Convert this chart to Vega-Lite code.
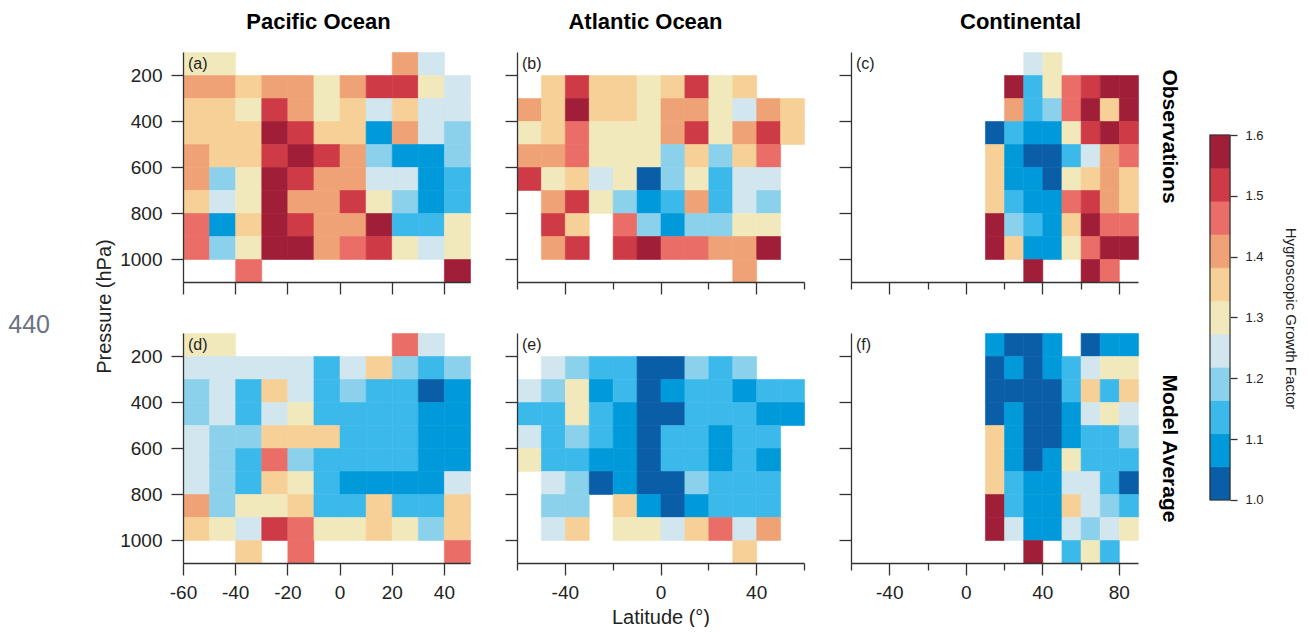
{
  "$schema": "https://vega.github.io/schema/vega-lite/v6.json",
  "padding": {"left": 8, "top": 11, "right": 6, "bottom": 0},
  "config": {
    "font": "Liberation Sans",
    "locale": {"number": {"decimal": ".", "thousands": ",", "grouping": [3], "currency": ["$", ""], "minus": "-"}},
    "view": {"stroke": null},
    "rect": {"strokeWidth": 0.6},
    "axis": {"grid": false, "domainColor": "#333", "tickColor": "#333", "domainWidth": 1.3, "tickWidth": 1.3, "labelColor": "#222", "labelFontSize": 19, "labelFlush": false, "labelOverlap": false, "titleFontWeight": "normal", "titleColor": "#222", "titleFontSize": 20},
    "title": {"fontSize": 22, "fontWeight": "bold", "color": "#000"}
  },
  "datasets": {
    "pa": [
      {"lat":-60,"p":100,"v":1.3},{"lat":-50,"p":100,"v":1.3},{"lat":20,"p":100,"v":1.41},{"lat":30,"p":100,"v":1.25},
      {"lat":-60,"p":200,"v":1.41},{"lat":-50,"p":200,"v":1.41},{"lat":-40,"p":200,"v":1.35},{"lat":-30,"p":200,"v":1.41},{"lat":-20,"p":200,"v":1.41},{"lat":-10,"p":200,"v":1.3},{"lat":0,"p":200,"v":1.41},{"lat":10,"p":200,"v":1.52},{"lat":20,"p":200,"v":1.52},{"lat":30,"p":200,"v":1.3},{"lat":40,"p":200,"v":1.25},
      {"lat":-60,"p":300,"v":1.35},{"lat":-50,"p":300,"v":1.35},{"lat":-40,"p":300,"v":1.3},{"lat":-30,"p":300,"v":1.52},{"lat":-20,"p":300,"v":1.41},{"lat":-10,"p":300,"v":1.3},{"lat":0,"p":300,"v":1.35},{"lat":10,"p":300,"v":1.25},{"lat":20,"p":300,"v":1.35},{"lat":30,"p":300,"v":1.25},{"lat":40,"p":300,"v":1.25},
      {"lat":-60,"p":400,"v":1.35},{"lat":-50,"p":400,"v":1.35},{"lat":-40,"p":400,"v":1.35},{"lat":-30,"p":400,"v":1.57},{"lat":-20,"p":400,"v":1.52},{"lat":-10,"p":400,"v":1.35},{"lat":0,"p":400,"v":1.35},{"lat":10,"p":400,"v":1.08},{"lat":20,"p":400,"v":1.41},{"lat":30,"p":400,"v":1.25},{"lat":40,"p":400,"v":1.19},
      {"lat":-60,"p":500,"v":1.41},{"lat":-50,"p":500,"v":1.35},{"lat":-40,"p":500,"v":1.35},{"lat":-30,"p":500,"v":1.52},{"lat":-20,"p":500,"v":1.57},{"lat":-10,"p":500,"v":1.52},{"lat":0,"p":500,"v":1.41},{"lat":10,"p":500,"v":1.19},{"lat":20,"p":500,"v":1.08},{"lat":30,"p":500,"v":1.08},{"lat":40,"p":500,"v":1.19},
      {"lat":-60,"p":600,"v":1.41},{"lat":-50,"p":600,"v":1.19},{"lat":-40,"p":600,"v":1.3},{"lat":-30,"p":600,"v":1.57},{"lat":-20,"p":600,"v":1.52},{"lat":-10,"p":600,"v":1.41},{"lat":0,"p":600,"v":1.41},{"lat":10,"p":600,"v":1.25},{"lat":20,"p":600,"v":1.25},{"lat":30,"p":600,"v":1.08},{"lat":40,"p":600,"v":1.14},
      {"lat":-60,"p":700,"v":1.35},{"lat":-50,"p":700,"v":1.25},{"lat":-40,"p":700,"v":1.3},{"lat":-30,"p":700,"v":1.57},{"lat":-20,"p":700,"v":1.41},{"lat":-10,"p":700,"v":1.41},{"lat":0,"p":700,"v":1.52},{"lat":10,"p":700,"v":1.3},{"lat":20,"p":700,"v":1.19},{"lat":30,"p":700,"v":1.08},{"lat":40,"p":700,"v":1.14},
      {"lat":-60,"p":800,"v":1.46},{"lat":-50,"p":800,"v":1.08},{"lat":-40,"p":800,"v":1.35},{"lat":-30,"p":800,"v":1.57},{"lat":-20,"p":800,"v":1.52},{"lat":-10,"p":800,"v":1.41},{"lat":0,"p":800,"v":1.41},{"lat":10,"p":800,"v":1.57},{"lat":20,"p":800,"v":1.14},{"lat":30,"p":800,"v":1.14},{"lat":40,"p":800,"v":1.3},
      {"lat":-60,"p":900,"v":1.46},{"lat":-50,"p":900,"v":1.19},{"lat":-40,"p":900,"v":1.3},{"lat":-30,"p":900,"v":1.57},{"lat":-20,"p":900,"v":1.57},{"lat":-10,"p":900,"v":1.41},{"lat":0,"p":900,"v":1.46},{"lat":10,"p":900,"v":1.52},{"lat":20,"p":900,"v":1.3},{"lat":30,"p":900,"v":1.25},{"lat":40,"p":900,"v":1.3},
      {"lat":-40,"p":1000,"v":1.46},{"lat":40,"p":1000,"v":1.57}
    ],
    "pb": [
      {"lat":-50,"p":200,"v":1.35},{"lat":-40,"p":200,"v":1.52},{"lat":-30,"p":200,"v":1.35},{"lat":-20,"p":200,"v":1.35},{"lat":-10,"p":200,"v":1.3},{"lat":0,"p":200,"v":1.35},{"lat":10,"p":200,"v":1.52},{"lat":20,"p":200,"v":1.3},{"lat":30,"p":200,"v":1.35},
      {"lat":-60,"p":300,"v":1.41},{"lat":-50,"p":300,"v":1.35},{"lat":-40,"p":300,"v":1.57},{"lat":-30,"p":300,"v":1.35},{"lat":-20,"p":300,"v":1.35},{"lat":-10,"p":300,"v":1.3},{"lat":0,"p":300,"v":1.41},{"lat":10,"p":300,"v":1.41},{"lat":20,"p":300,"v":1.3},{"lat":30,"p":300,"v":1.25},{"lat":40,"p":300,"v":1.41},{"lat":50,"p":300,"v":1.35},
      {"lat":-60,"p":400,"v":1.3},{"lat":-50,"p":400,"v":1.35},{"lat":-40,"p":400,"v":1.46},{"lat":-30,"p":400,"v":1.3},{"lat":-20,"p":400,"v":1.3},{"lat":-10,"p":400,"v":1.3},{"lat":0,"p":400,"v":1.41},{"lat":10,"p":400,"v":1.52},{"lat":20,"p":400,"v":1.3},{"lat":30,"p":400,"v":1.41},{"lat":40,"p":400,"v":1.52},{"lat":50,"p":400,"v":1.35},
      {"lat":-60,"p":500,"v":1.41},{"lat":-50,"p":500,"v":1.41},{"lat":-40,"p":500,"v":1.46},{"lat":-30,"p":500,"v":1.3},{"lat":-20,"p":500,"v":1.3},{"lat":-10,"p":500,"v":1.3},{"lat":0,"p":500,"v":1.19},{"lat":10,"p":500,"v":1.35},{"lat":20,"p":500,"v":1.19},{"lat":30,"p":500,"v":1.35},{"lat":40,"p":500,"v":1.46},
      {"lat":-60,"p":600,"v":1.52},{"lat":-50,"p":600,"v":1.3},{"lat":-40,"p":600,"v":1.35},{"lat":-30,"p":600,"v":1.25},{"lat":-20,"p":600,"v":1.3},{"lat":-10,"p":600,"v":1.03},{"lat":0,"p":600,"v":1.19},{"lat":10,"p":600,"v":1.3},{"lat":20,"p":600,"v":1.14},{"lat":30,"p":600,"v":1.25},{"lat":40,"p":600,"v":1.25},
      {"lat":-50,"p":700,"v":1.41},{"lat":-40,"p":700,"v":1.52},{"lat":-30,"p":700,"v":1.3},{"lat":-20,"p":700,"v":1.19},{"lat":-10,"p":700,"v":1.08},{"lat":0,"p":700,"v":1.14},{"lat":10,"p":700,"v":1.41},{"lat":20,"p":700,"v":1.14},{"lat":30,"p":700,"v":1.25},{"lat":40,"p":700,"v":1.19},
      {"lat":-50,"p":800,"v":1.52},{"lat":-40,"p":800,"v":1.35},{"lat":-20,"p":800,"v":1.46},{"lat":-10,"p":800,"v":1.19},{"lat":0,"p":800,"v":1.08},{"lat":10,"p":800,"v":1.19},{"lat":20,"p":800,"v":1.19},{"lat":30,"p":800,"v":1.3},{"lat":40,"p":800,"v":1.3},
      {"lat":-50,"p":900,"v":1.41},{"lat":-40,"p":900,"v":1.52},{"lat":-20,"p":900,"v":1.52},{"lat":-10,"p":900,"v":1.57},{"lat":0,"p":900,"v":1.46},{"lat":10,"p":900,"v":1.46},{"lat":20,"p":900,"v":1.41},{"lat":30,"p":900,"v":1.41},{"lat":40,"p":900,"v":1.57},
      {"lat":30,"p":1000,"v":1.41}
    ],
    "pc": [
      {"lat":30,"p":100,"v":1.25},{"lat":40,"p":100,"v":1.3},
      {"lat":20,"p":200,"v":1.57},{"lat":30,"p":200,"v":1.14},{"lat":40,"p":200,"v":1.3},{"lat":50,"p":200,"v":1.46},{"lat":60,"p":200,"v":1.52},{"lat":70,"p":200,"v":1.57},{"lat":80,"p":200,"v":1.57},
      {"lat":20,"p":300,"v":1.41},{"lat":30,"p":300,"v":1.14},{"lat":40,"p":300,"v":1.19},{"lat":50,"p":300,"v":1.46},{"lat":60,"p":300,"v":1.57},{"lat":70,"p":300,"v":1.35},{"lat":80,"p":300,"v":1.57},
      {"lat":10,"p":400,"v":1.03},{"lat":20,"p":400,"v":1.14},{"lat":30,"p":400,"v":1.08},{"lat":40,"p":400,"v":1.08},{"lat":50,"p":400,"v":1.3},{"lat":60,"p":400,"v":1.52},{"lat":70,"p":400,"v":1.57},{"lat":80,"p":400,"v":1.52},
      {"lat":10,"p":500,"v":1.35},{"lat":20,"p":500,"v":1.08},{"lat":30,"p":500,"v":1.03},{"lat":40,"p":500,"v":1.03},{"lat":50,"p":500,"v":1.14},{"lat":60,"p":500,"v":1.25},{"lat":70,"p":500,"v":1.41},{"lat":80,"p":500,"v":1.46},
      {"lat":10,"p":600,"v":1.35},{"lat":20,"p":600,"v":1.08},{"lat":30,"p":600,"v":1.08},{"lat":40,"p":600,"v":1.03},{"lat":50,"p":600,"v":1.3},{"lat":60,"p":600,"v":1.35},{"lat":70,"p":600,"v":1.41},{"lat":80,"p":600,"v":1.35},
      {"lat":10,"p":700,"v":1.35},{"lat":20,"p":700,"v":1.14},{"lat":30,"p":700,"v":1.08},{"lat":40,"p":700,"v":1.08},{"lat":50,"p":700,"v":1.46},{"lat":60,"p":700,"v":1.52},{"lat":70,"p":700,"v":1.41},{"lat":80,"p":700,"v":1.35},
      {"lat":10,"p":800,"v":1.57},{"lat":20,"p":800,"v":1.19},{"lat":30,"p":800,"v":1.14},{"lat":40,"p":800,"v":1.08},{"lat":50,"p":800,"v":1.35},{"lat":60,"p":800,"v":1.57},{"lat":70,"p":800,"v":1.46},{"lat":80,"p":800,"v":1.46},
      {"lat":10,"p":900,"v":1.57},{"lat":20,"p":900,"v":1.35},{"lat":30,"p":900,"v":1.08},{"lat":40,"p":900,"v":1.08},{"lat":50,"p":900,"v":1.3},{"lat":60,"p":900,"v":1.46},{"lat":70,"p":900,"v":1.57},{"lat":80,"p":900,"v":1.57},
      {"lat":30,"p":1000,"v":1.57},{"lat":60,"p":1000,"v":1.57},{"lat":70,"p":1000,"v":1.46}
    ],
    "pd": [
      {"lat":-60,"p":100,"v":1.3},{"lat":-50,"p":100,"v":1.3},{"lat":20,"p":100,"v":1.46},{"lat":30,"p":100,"v":1.25},
      {"lat":-60,"p":200,"v":1.25},{"lat":-50,"p":200,"v":1.25},{"lat":-40,"p":200,"v":1.25},{"lat":-30,"p":200,"v":1.25},{"lat":-20,"p":200,"v":1.25},{"lat":-10,"p":200,"v":1.14},{"lat":0,"p":200,"v":1.25},{"lat":10,"p":200,"v":1.35},{"lat":20,"p":200,"v":1.19},{"lat":30,"p":200,"v":1.14},{"lat":40,"p":200,"v":1.19},
      {"lat":-60,"p":300,"v":1.19},{"lat":-50,"p":300,"v":1.25},{"lat":-40,"p":300,"v":1.14},{"lat":-30,"p":300,"v":1.35},{"lat":-20,"p":300,"v":1.25},{"lat":-10,"p":300,"v":1.14},{"lat":0,"p":300,"v":1.19},{"lat":10,"p":300,"v":1.14},{"lat":20,"p":300,"v":1.14},{"lat":30,"p":300,"v":1.03},{"lat":40,"p":300,"v":1.08},
      {"lat":-60,"p":400,"v":1.19},{"lat":-50,"p":400,"v":1.25},{"lat":-40,"p":400,"v":1.14},{"lat":-30,"p":400,"v":1.25},{"lat":-20,"p":400,"v":1.3},{"lat":-10,"p":400,"v":1.14},{"lat":0,"p":400,"v":1.14},{"lat":10,"p":400,"v":1.14},{"lat":20,"p":400,"v":1.14},{"lat":30,"p":400,"v":1.08},{"lat":40,"p":400,"v":1.08},
      {"lat":-60,"p":500,"v":1.25},{"lat":-50,"p":500,"v":1.19},{"lat":-40,"p":500,"v":1.19},{"lat":-30,"p":500,"v":1.35},{"lat":-20,"p":500,"v":1.35},{"lat":-10,"p":500,"v":1.35},{"lat":0,"p":500,"v":1.14},{"lat":10,"p":500,"v":1.14},{"lat":20,"p":500,"v":1.14},{"lat":30,"p":500,"v":1.08},{"lat":40,"p":500,"v":1.08},
      {"lat":-60,"p":600,"v":1.25},{"lat":-50,"p":600,"v":1.19},{"lat":-40,"p":600,"v":1.14},{"lat":-30,"p":600,"v":1.46},{"lat":-20,"p":600,"v":1.19},{"lat":-10,"p":600,"v":1.14},{"lat":0,"p":600,"v":1.14},{"lat":10,"p":600,"v":1.14},{"lat":20,"p":600,"v":1.14},{"lat":30,"p":600,"v":1.08},{"lat":40,"p":600,"v":1.08},
      {"lat":-60,"p":700,"v":1.25},{"lat":-50,"p":700,"v":1.19},{"lat":-40,"p":700,"v":1.14},{"lat":-30,"p":700,"v":1.35},{"lat":-20,"p":700,"v":1.3},{"lat":-10,"p":700,"v":1.14},{"lat":0,"p":700,"v":1.08},{"lat":10,"p":700,"v":1.08},{"lat":20,"p":700,"v":1.08},{"lat":30,"p":700,"v":1.08},{"lat":40,"p":700,"v":1.25},
      {"lat":-60,"p":800,"v":1.41},{"lat":-50,"p":800,"v":1.19},{"lat":-40,"p":800,"v":1.3},{"lat":-30,"p":800,"v":1.3},{"lat":-20,"p":800,"v":1.35},{"lat":-10,"p":800,"v":1.14},{"lat":0,"p":800,"v":1.14},{"lat":10,"p":800,"v":1.35},{"lat":20,"p":800,"v":1.14},{"lat":30,"p":800,"v":1.14},{"lat":40,"p":800,"v":1.35},
      {"lat":-60,"p":900,"v":1.35},{"lat":-50,"p":900,"v":1.3},{"lat":-40,"p":900,"v":1.25},{"lat":-30,"p":900,"v":1.52},{"lat":-20,"p":900,"v":1.46},{"lat":-10,"p":900,"v":1.3},{"lat":0,"p":900,"v":1.3},{"lat":10,"p":900,"v":1.35},{"lat":20,"p":900,"v":1.3},{"lat":30,"p":900,"v":1.19},{"lat":40,"p":900,"v":1.35},
      {"lat":-40,"p":1000,"v":1.35},{"lat":-20,"p":1000,"v":1.46},{"lat":40,"p":1000,"v":1.46}
    ],
    "pe": [
      {"lat":-50,"p":200,"v":1.25},{"lat":-40,"p":200,"v":1.19},{"lat":-30,"p":200,"v":1.14},{"lat":-20,"p":200,"v":1.14},{"lat":-10,"p":200,"v":1.03},{"lat":0,"p":200,"v":1.03},{"lat":10,"p":200,"v":1.19},{"lat":20,"p":200,"v":1.14},{"lat":30,"p":200,"v":1.19},
      {"lat":-60,"p":300,"v":1.25},{"lat":-50,"p":300,"v":1.19},{"lat":-40,"p":300,"v":1.3},{"lat":-30,"p":300,"v":1.08},{"lat":-20,"p":300,"v":1.14},{"lat":-10,"p":300,"v":1.03},{"lat":0,"p":300,"v":1.08},{"lat":10,"p":300,"v":1.14},{"lat":20,"p":300,"v":1.14},{"lat":30,"p":300,"v":1.08},{"lat":40,"p":300,"v":1.14},{"lat":50,"p":300,"v":1.14},
      {"lat":-60,"p":400,"v":1.14},{"lat":-50,"p":400,"v":1.14},{"lat":-40,"p":400,"v":1.3},{"lat":-30,"p":400,"v":1.14},{"lat":-20,"p":400,"v":1.08},{"lat":-10,"p":400,"v":1.03},{"lat":0,"p":400,"v":1.03},{"lat":10,"p":400,"v":1.14},{"lat":20,"p":400,"v":1.14},{"lat":30,"p":400,"v":1.14},{"lat":40,"p":400,"v":1.08},{"lat":50,"p":400,"v":1.08},
      {"lat":-60,"p":500,"v":1.25},{"lat":-50,"p":500,"v":1.14},{"lat":-40,"p":500,"v":1.19},{"lat":-30,"p":500,"v":1.14},{"lat":-20,"p":500,"v":1.08},{"lat":-10,"p":500,"v":1.03},{"lat":0,"p":500,"v":1.14},{"lat":10,"p":500,"v":1.14},{"lat":20,"p":500,"v":1.08},{"lat":30,"p":500,"v":1.14},{"lat":40,"p":500,"v":1.14},
      {"lat":-60,"p":600,"v":1.3},{"lat":-50,"p":600,"v":1.14},{"lat":-40,"p":600,"v":1.14},{"lat":-30,"p":600,"v":1.08},{"lat":-20,"p":600,"v":1.08},{"lat":-10,"p":600,"v":1.03},{"lat":0,"p":600,"v":1.14},{"lat":10,"p":600,"v":1.14},{"lat":20,"p":600,"v":1.08},{"lat":30,"p":600,"v":1.14},{"lat":40,"p":600,"v":1.08},
      {"lat":-50,"p":700,"v":1.25},{"lat":-40,"p":700,"v":1.19},{"lat":-30,"p":700,"v":1.03},{"lat":-20,"p":700,"v":1.08},{"lat":-10,"p":700,"v":1.03},{"lat":0,"p":700,"v":1.03},{"lat":10,"p":700,"v":1.19},{"lat":20,"p":700,"v":1.14},{"lat":30,"p":700,"v":1.14},{"lat":40,"p":700,"v":1.14},
      {"lat":-50,"p":800,"v":1.19},{"lat":-40,"p":800,"v":1.19},{"lat":-20,"p":800,"v":1.35},{"lat":-10,"p":800,"v":1.08},{"lat":0,"p":800,"v":1.03},{"lat":10,"p":800,"v":1.08},{"lat":20,"p":800,"v":1.14},{"lat":30,"p":800,"v":1.14},{"lat":40,"p":800,"v":1.14},
      {"lat":-50,"p":900,"v":1.25},{"lat":-40,"p":900,"v":1.35},{"lat":-20,"p":900,"v":1.3},{"lat":-10,"p":900,"v":1.3},{"lat":0,"p":900,"v":1.25},{"lat":10,"p":900,"v":1.35},{"lat":20,"p":900,"v":1.46},{"lat":30,"p":900,"v":1.25},{"lat":40,"p":900,"v":1.41},
      {"lat":30,"p":1000,"v":1.35}
    ],
    "pf": [
      {"lat":10,"p":100,"v":1.08},{"lat":20,"p":100,"v":1.03},{"lat":30,"p":100,"v":1.03},{"lat":40,"p":100,"v":1.08},{"lat":60,"p":100,"v":1.03},{"lat":70,"p":100,"v":1.08},{"lat":80,"p":100,"v":1.08},
      {"lat":10,"p":200,"v":1.03},{"lat":20,"p":200,"v":1.08},{"lat":30,"p":200,"v":1.03},{"lat":40,"p":200,"v":1.08},{"lat":50,"p":200,"v":1.14},{"lat":60,"p":200,"v":1.25},{"lat":70,"p":200,"v":1.3},{"lat":80,"p":200,"v":1.3},
      {"lat":10,"p":300,"v":1.03},{"lat":20,"p":300,"v":1.03},{"lat":30,"p":300,"v":1.03},{"lat":40,"p":300,"v":1.03},{"lat":50,"p":300,"v":1.14},{"lat":60,"p":300,"v":1.35},{"lat":70,"p":300,"v":1.14},{"lat":80,"p":300,"v":1.35},
      {"lat":10,"p":400,"v":1.03},{"lat":20,"p":400,"v":1.08},{"lat":30,"p":400,"v":1.03},{"lat":40,"p":400,"v":1.03},{"lat":50,"p":400,"v":1.08},{"lat":60,"p":400,"v":1.25},{"lat":70,"p":400,"v":1.3},{"lat":80,"p":400,"v":1.25},
      {"lat":10,"p":500,"v":1.35},{"lat":20,"p":500,"v":1.08},{"lat":30,"p":500,"v":1.03},{"lat":40,"p":500,"v":1.03},{"lat":50,"p":500,"v":1.08},{"lat":60,"p":500,"v":1.14},{"lat":70,"p":500,"v":1.14},{"lat":80,"p":500,"v":1.19},
      {"lat":10,"p":600,"v":1.35},{"lat":20,"p":600,"v":1.08},{"lat":30,"p":600,"v":1.03},{"lat":40,"p":600,"v":1.08},{"lat":50,"p":600,"v":1.3},{"lat":60,"p":600,"v":1.14},{"lat":70,"p":600,"v":1.14},{"lat":80,"p":600,"v":1.14},
      {"lat":10,"p":700,"v":1.35},{"lat":20,"p":700,"v":1.14},{"lat":30,"p":700,"v":1.08},{"lat":40,"p":700,"v":1.08},{"lat":50,"p":700,"v":1.25},{"lat":60,"p":700,"v":1.25},{"lat":70,"p":700,"v":1.14},{"lat":80,"p":700,"v":1.03},
      {"lat":10,"p":800,"v":1.57},{"lat":20,"p":800,"v":1.14},{"lat":30,"p":800,"v":1.08},{"lat":40,"p":800,"v":1.08},{"lat":50,"p":800,"v":1.35},{"lat":60,"p":800,"v":1.25},{"lat":70,"p":800,"v":1.19},{"lat":80,"p":800,"v":1.14},
      {"lat":10,"p":900,"v":1.57},{"lat":20,"p":900,"v":1.25},{"lat":30,"p":900,"v":1.08},{"lat":40,"p":900,"v":1.08},{"lat":50,"p":900,"v":1.25},{"lat":60,"p":900,"v":1.19},{"lat":70,"p":900,"v":1.25},{"lat":80,"p":900,"v":1.3},
      {"lat":30,"p":1000,"v":1.57},{"lat":50,"p":1000,"v":1.14},{"lat":60,"p":1000,"v":1.3},{"lat":70,"p":1000,"v":1.14}
    ],
    "bar": [
      {"lo":1.0,"hi":1.0545,"v":1.0273},{"lo":1.0545,"hi":1.1091,"v":1.0818},{"lo":1.1091,"hi":1.1636,"v":1.1364},{"lo":1.1636,"hi":1.2182,"v":1.1909},
      {"lo":1.2182,"hi":1.2727,"v":1.2455},{"lo":1.2727,"hi":1.3273,"v":1.3},{"lo":1.3273,"hi":1.3818,"v":1.3545},{"lo":1.3818,"hi":1.4364,"v":1.4091},
      {"lo":1.4364,"hi":1.4909,"v":1.4636},{"lo":1.4909,"hi":1.5455,"v":1.5182},{"lo":1.5455,"hi":1.6,"v":1.5727}
    ],
    "barframe": [{"lo": 1.0, "hi": 1.6}]
  },
  "hconcat": [
    {
      "spacing": 33,
      "hconcat": [
        {
          "title": {"text": "440", "orient": "left", "anchor": "middle", "angle": 0, "align": "right", "baseline": "middle", "fontSize": 25, "fontWeight": "normal", "color": "#6B7280", "offset": 3, "dy": 18},
          "vconcat": [
            {
              "title": {"text": "Pressure (hPa)", "orient": "left", "anchor": "middle", "baseline": "bottom", "fontSize": 20, "fontWeight": "normal", "color": "#222", "offset": -15},
              "spacing": 38,
              "vconcat": [
                {
                  "width": 287, "height": 230,
                  "title": {"text": "Pacific Ocean", "frame": "group", "dx": -8, "baseline": "alphabetic", "offset": 1},
                  "layer": [
                    {
                      "data": {"name": "pa"},
                      "mark": {"type": "rect"},
                      "encoding": {
                        "x": {"field": "lat", "type": "quantitative", "bin": {"step": 10, "extent": [-60, 50], "nice": false}, "scale": {"domain": [-60, 50], "nice": false, "zero": false}, "axis": {"orient": "bottom", "values": [-60, -40, -20, 0, 20, 40], "labels": false, "tickSize": 12, "title": null}},
                        "y": {"field": "p", "type": "quantitative", "bin": {"step": 100, "extent": [100, 1100], "nice": false}, "scale": {"domain": [100, 1100], "reverse": true, "nice": false, "zero": false}, "axis": {"orient": "left", "values": [200, 400, 600, 800, 1000], "format": "d", "tickSize": 12, "labelPadding": 9, "title": null}},
                        "color": {"field": "v", "type": "quantitative", "scale": {"type": "quantize", "domain": [1, 1.6], "nice": false, "range": ["#0A5EA8", "#009ADB", "#3CB9EB", "#8CD1EC", "#D1E6EE", "#F1E9BC", "#F6D097", "#F0A277", "#EA6E67", "#CF3A47", "#A01E37"]}, "legend": null},
                        "stroke": {"field": "v", "type": "quantitative", "scale": {"type": "quantize", "domain": [1, 1.6], "nice": false, "range": ["#0A5EA8", "#009ADB", "#3CB9EB", "#8CD1EC", "#D1E6EE", "#F1E9BC", "#F6D097", "#F0A277", "#EA6E67", "#CF3A47", "#A01E37"]}, "legend": null}
                      }
                    },
                    {
                      "data": {"values": [{"label": "(a)"}]},
                      "mark": {"type": "text", "align": "left", "baseline": "top", "dx": 5, "dy": 4, "fontSize": 16, "color": "#222"},
                      "encoding": {"x": {"datum": -60, "axis": null}, "y": {"datum": 100, "axis": null}, "text": {"field": "label"}}
                    }
                  ],
                  "resolve": {"axis": {"x": "independent", "y": "independent"}}
                },
                {
                  "width": 287, "height": 230,
                  "layer": [
                    {
                      "data": {"name": "pd"},
                      "mark": {"type": "rect"},
                      "encoding": {
                        "x": {"field": "lat", "type": "quantitative", "bin": {"step": 10, "extent": [-60, 50], "nice": false}, "scale": {"domain": [-60, 50], "nice": false, "zero": false}, "axis": {"orient": "bottom", "values": [-60, -40, -20, 0, 20, 40], "format": "d", "tickSize": 12, "labelPadding": 8, "title": null}},
                        "y": {"field": "p", "type": "quantitative", "bin": {"step": 100, "extent": [100, 1100], "nice": false}, "scale": {"domain": [100, 1100], "reverse": true, "nice": false, "zero": false}, "axis": {"orient": "left", "values": [200, 400, 600, 800, 1000], "format": "d", "tickSize": 12, "labelPadding": 9, "title": null}},
                        "color": {"field": "v", "type": "quantitative", "scale": {"type": "quantize", "domain": [1, 1.6], "nice": false, "range": ["#0A5EA8", "#009ADB", "#3CB9EB", "#8CD1EC", "#D1E6EE", "#F1E9BC", "#F6D097", "#F0A277", "#EA6E67", "#CF3A47", "#A01E37"]}, "legend": null},
                        "stroke": {"field": "v", "type": "quantitative", "scale": {"type": "quantize", "domain": [1, 1.6], "nice": false, "range": ["#0A5EA8", "#009ADB", "#3CB9EB", "#8CD1EC", "#D1E6EE", "#F1E9BC", "#F6D097", "#F0A277", "#EA6E67", "#CF3A47", "#A01E37"]}, "legend": null}
                      }
                    },
                    {
                      "data": {"values": [{"label": "(d)"}]},
                      "mark": {"type": "text", "align": "left", "baseline": "top", "dx": 5, "dy": 4, "fontSize": 16, "color": "#222"},
                      "encoding": {"x": {"datum": -60, "axis": null}, "y": {"datum": 100, "axis": null}, "text": {"field": "label"}}
                    }
                  ],
                  "resolve": {"axis": {"x": "independent", "y": "independent"}}
                }
              ]
            }
          ]
        },
        {
          "spacing": 38,
          "vconcat": [
            {
              "width": 287, "height": 230,
              "title": {"text": "Atlantic Ocean", "frame": "group", "dx": -15, "baseline": "alphabetic", "offset": 1},
              "layer": [
                {
                  "data": {"name": "pb"},
                  "mark": {"type": "rect"},
                  "encoding": {
                    "x": {"field": "lat", "type": "quantitative", "bin": {"step": 10, "extent": [-60, 60], "nice": false}, "scale": {"domain": [-60, 60], "nice": false, "zero": false}, "axis": {"orient": "bottom", "values": [-40, 0, 40], "labels": false, "tickSize": 12, "title": null}},
                    "y": {"field": "p", "type": "quantitative", "bin": {"step": 100, "extent": [100, 1100], "nice": false}, "scale": {"domain": [100, 1100], "reverse": true, "nice": false, "zero": false}, "axis": {"orient": "left", "values": [200, 400, 600, 800, 1000], "labels": false, "tickSize": 12, "title": null}},
                    "color": {"field": "v", "type": "quantitative", "scale": {"type": "quantize", "domain": [1, 1.6], "nice": false, "range": ["#0A5EA8", "#009ADB", "#3CB9EB", "#8CD1EC", "#D1E6EE", "#F1E9BC", "#F6D097", "#F0A277", "#EA6E67", "#CF3A47", "#A01E37"]}, "legend": null},
                    "stroke": {"field": "v", "type": "quantitative", "scale": {"type": "quantize", "domain": [1, 1.6], "nice": false, "range": ["#0A5EA8", "#009ADB", "#3CB9EB", "#8CD1EC", "#D1E6EE", "#F1E9BC", "#F6D097", "#F0A277", "#EA6E67", "#CF3A47", "#A01E37"]}, "legend": null}
                  }
                },
                {
                  "data": {"values": [{"label": "(b)"}]},
                  "mark": {"type": "text", "align": "left", "baseline": "top", "dx": 5, "dy": 4, "fontSize": 16, "color": "#222"},
                  "encoding": {"x": {"datum": -60, "axis": {"orient": "bottom", "values": [-60, -20, 20, 60], "labels": false, "domain": false, "tickSize": 7, "title": null}}, "y": {"datum": 100, "axis": null}, "text": {"field": "label"}}
                }
              ],
              "resolve": {"axis": {"x": "independent", "y": "independent"}}
            },
            {
              "width": 287, "height": 230,
              "layer": [
                {
                  "data": {"name": "pe"},
                  "mark": {"type": "rect"},
                  "encoding": {
                    "x": {"field": "lat", "type": "quantitative", "bin": {"step": 10, "extent": [-60, 60], "nice": false}, "scale": {"domain": [-60, 60], "nice": false, "zero": false}, "axis": {"orient": "bottom", "values": [-40, 0, 40], "format": "d", "tickSize": 12, "labelPadding": 8, "title": "Latitude (°)", "titlePadding": 5}},
                    "y": {"field": "p", "type": "quantitative", "bin": {"step": 100, "extent": [100, 1100], "nice": false}, "scale": {"domain": [100, 1100], "reverse": true, "nice": false, "zero": false}, "axis": {"orient": "left", "values": [200, 400, 600, 800, 1000], "labels": false, "tickSize": 12, "title": null}},
                    "color": {"field": "v", "type": "quantitative", "scale": {"type": "quantize", "domain": [1, 1.6], "nice": false, "range": ["#0A5EA8", "#009ADB", "#3CB9EB", "#8CD1EC", "#D1E6EE", "#F1E9BC", "#F6D097", "#F0A277", "#EA6E67", "#CF3A47", "#A01E37"]}, "legend": null},
                    "stroke": {"field": "v", "type": "quantitative", "scale": {"type": "quantize", "domain": [1, 1.6], "nice": false, "range": ["#0A5EA8", "#009ADB", "#3CB9EB", "#8CD1EC", "#D1E6EE", "#F1E9BC", "#F6D097", "#F0A277", "#EA6E67", "#CF3A47", "#A01E37"]}, "legend": null}
                  }
                },
                {
                  "data": {"values": [{"label": "(e)"}]},
                  "mark": {"type": "text", "align": "left", "baseline": "top", "dx": 5, "dy": 4, "fontSize": 16, "color": "#222"},
                  "encoding": {"x": {"datum": -60, "axis": {"orient": "bottom", "values": [-60, -20, 20, 60], "labels": false, "domain": false, "tickSize": 7, "title": null}}, "y": {"datum": 100, "axis": null}, "text": {"field": "label"}}
                }
              ],
              "resolve": {"axis": {"x": "independent", "y": "independent"}}
            }
          ]
        },
        {
          "spacing": 38,
          "vconcat": [
            {
              "width": 287, "height": 230,
              "title": {"text": "Continental", "frame": "group", "dx": 26, "baseline": "alphabetic", "offset": 1},
              "layer": [
                {
                  "data": {"name": "pc"},
                  "mark": {"type": "rect"},
                  "encoding": {
                    "x": {"field": "lat", "type": "quantitative", "bin": {"step": 10, "extent": [-60, 90], "nice": false}, "scale": {"domain": [-60, 90], "nice": false, "zero": false}, "axis": {"orient": "bottom", "values": [-40, 0, 40, 80], "labels": false, "tickSize": 12, "title": null}},
                    "y": {"field": "p", "type": "quantitative", "bin": {"step": 100, "extent": [100, 1100], "nice": false}, "scale": {"domain": [100, 1100], "reverse": true, "nice": false, "zero": false}, "axis": {"orient": "left", "values": [200, 400, 600, 800, 1000], "labels": false, "tickSize": 12, "title": null}},
                    "color": {"field": "v", "type": "quantitative", "scale": {"type": "quantize", "domain": [1, 1.6], "nice": false, "range": ["#0A5EA8", "#009ADB", "#3CB9EB", "#8CD1EC", "#D1E6EE", "#F1E9BC", "#F6D097", "#F0A277", "#EA6E67", "#CF3A47", "#A01E37"]}, "legend": null},
                    "stroke": {"field": "v", "type": "quantitative", "scale": {"type": "quantize", "domain": [1, 1.6], "nice": false, "range": ["#0A5EA8", "#009ADB", "#3CB9EB", "#8CD1EC", "#D1E6EE", "#F1E9BC", "#F6D097", "#F0A277", "#EA6E67", "#CF3A47", "#A01E37"]}, "legend": null}
                  }
                },
                {
                  "data": {"values": [{"label": "(c)"}]},
                  "mark": {"type": "text", "align": "left", "baseline": "top", "dx": 5, "dy": 4, "fontSize": 16, "color": "#222"},
                  "encoding": {
                    "x": {"datum": -60, "axis": {"orient": "bottom", "values": [-60, -20, 20, 60], "labels": false, "domain": false, "tickSize": 7, "title": null}},
                    "y": {"datum": 100, "axis": {"orient": "right", "ticks": false, "labels": false, "domain": false, "title": "Observations", "titleFontWeight": "bold", "titleFontSize": 21, "titleColor": "#000", "titleAngle": 90, "titlePadding": 20, "titleY": 84}},
                    "text": {"field": "label"}
                  }
                }
              ],
              "resolve": {"axis": {"x": "independent", "y": "independent"}}
            },
            {
              "width": 287, "height": 230,
              "layer": [
                {
                  "data": {"name": "pf"},
                  "mark": {"type": "rect"},
                  "encoding": {
                    "x": {"field": "lat", "type": "quantitative", "bin": {"step": 10, "extent": [-60, 90], "nice": false}, "scale": {"domain": [-60, 90], "nice": false, "zero": false}, "axis": {"orient": "bottom", "values": [-40, 0, 40, 80], "format": "d", "tickSize": 12, "labelPadding": 8, "title": null}},
                    "y": {"field": "p", "type": "quantitative", "bin": {"step": 100, "extent": [100, 1100], "nice": false}, "scale": {"domain": [100, 1100], "reverse": true, "nice": false, "zero": false}, "axis": {"orient": "left", "values": [200, 400, 600, 800, 1000], "labels": false, "tickSize": 12, "title": null}},
                    "color": {"field": "v", "type": "quantitative", "scale": {"type": "quantize", "domain": [1, 1.6], "nice": false, "range": ["#0A5EA8", "#009ADB", "#3CB9EB", "#8CD1EC", "#D1E6EE", "#F1E9BC", "#F6D097", "#F0A277", "#EA6E67", "#CF3A47", "#A01E37"]}, "legend": null},
                    "stroke": {"field": "v", "type": "quantitative", "scale": {"type": "quantize", "domain": [1, 1.6], "nice": false, "range": ["#0A5EA8", "#009ADB", "#3CB9EB", "#8CD1EC", "#D1E6EE", "#F1E9BC", "#F6D097", "#F0A277", "#EA6E67", "#CF3A47", "#A01E37"]}, "legend": null}
                  }
                },
                {
                  "data": {"values": [{"label": "(f)"}]},
                  "mark": {"type": "text", "align": "left", "baseline": "top", "dx": 5, "dy": 4, "fontSize": 16, "color": "#222"},
                  "encoding": {
                    "x": {"datum": -60, "axis": {"orient": "bottom", "values": [-60, -20, 20, 60], "labels": false, "domain": false, "tickSize": 7, "title": null}},
                    "y": {"datum": 100, "axis": {"orient": "right", "ticks": false, "labels": false, "domain": false, "title": "Model Average", "titleFontWeight": "bold", "titleFontSize": 21, "titleColor": "#000", "titleAngle": 90, "titlePadding": 20}},
                    "text": {"field": "label"}
                  }
                }
              ],
              "resolve": {"axis": {"x": "independent", "y": "independent"}}
            }
          ]
        }
      ]
    },
    {
      "width": 20, "height": 510,
      "layer": [
        {
          "data": {"name": "bar"},
          "mark": {"type": "rect"},
          "encoding": {
            "y": {"field": "lo", "type": "quantitative", "scale": {"domain": [0.89808, 1.73644], "nice": false, "zero": false}, "axis": {"orient": "right", "values": [1, 1.1, 1.2, 1.3, 1.4, 1.5, 1.6], "format": ".1f", "tickSize": 7, "labelFontSize": 13, "labelPadding": 8, "domain": false, "title": "Hygroscopic Growth Factor", "titleFontSize": 15, "titleAngle": 90, "titlePadding": 19, "titleY": 266}},
            "y2": {"field": "hi"},
            "color": {"field": "v", "type": "quantitative", "scale": {"type": "quantize", "domain": [1, 1.6], "nice": false, "range": ["#0A5EA8", "#009ADB", "#3CB9EB", "#8CD1EC", "#D1E6EE", "#F1E9BC", "#F6D097", "#F0A277", "#EA6E67", "#CF3A47", "#A01E37"]}, "legend": null},
            "stroke": {"field": "v", "type": "quantitative", "scale": {"type": "quantize", "domain": [1, 1.6], "nice": false, "range": ["#0A5EA8", "#009ADB", "#3CB9EB", "#8CD1EC", "#D1E6EE", "#F1E9BC", "#F6D097", "#F0A277", "#EA6E67", "#CF3A47", "#A01E37"]}, "legend": null}
          }
        },
        {
          "data": {"name": "barframe"},
          "mark": {"type": "rect", "fillOpacity": 0, "stroke": "#333", "strokeWidth": 1.2},
          "encoding": {
            "y": {"field": "lo", "type": "quantitative", "axis": null},
            "y2": {"field": "hi"}
          }
        }
      ],
      "resolve": {"axis": {"y": "independent"}}
    }
  ],
  "spacing": 30
}
